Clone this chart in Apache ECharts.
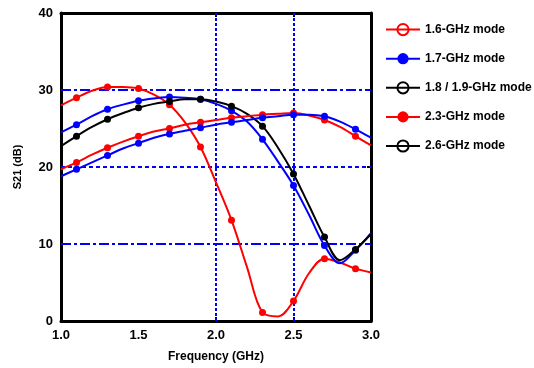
<!DOCTYPE html>
<html>
<head>
<meta charset="utf-8">
<script src="https://cdn.jsdelivr.net/npm/echarts@6/dist/echarts.min.js"></script>
<style>html,body{margin:0;padding:0;background:#fff;}#c{width:534px;height:368px;}</style>
</head>
<body>
<div id="c"></div>
<script>
const freq = [1.0,1.1,1.2,1.3,1.4,1.5,1.6,1.7,1.8,1.9,2.0,2.1,2.2,2.3,2.4,2.5,2.6,2.7,2.8,2.9,3.0];
const mode16 = [28.0,29.0,29.9,30.4,30.4,30.2,29.4,28.1,25.8,22.6,18.0,13.1,7.0,1.1,0.6,2.6,6.2,8.1,7.6,6.8,6.3];
const mode17 = [24.5,25.5,26.6,27.5,28.1,28.6,28.9,29.1,29.0,28.8,28.2,27.3,25.9,23.6,20.7,17.6,13.8,9.8,7.5,9.2,11.4];
const mode1819 = [22.7,24.0,25.2,26.2,27.0,27.7,28.2,28.5,28.8,28.8,28.5,27.9,26.9,25.3,22.5,19.1,15.0,10.9,7.9,9.3,11.3];
const mode23 = [19.7,20.6,21.6,22.5,23.3,24.0,24.6,25.0,25.5,25.8,26.1,26.4,26.6,26.8,26.9,27.0,26.7,26.1,25.2,24.0,22.8];
const mode26 = [18.8,19.7,20.6,21.5,22.4,23.1,23.8,24.3,24.7,25.1,25.5,25.8,26.1,26.4,26.6,26.8,26.8,26.6,25.9,24.9,23.8];
const seriesNames = ['1.6-GHz mode','1.7-GHz mode','1.8 / 1.9-GHz mode','2.3-GHz mode','2.6-GHz mode'];
const xTicks = [1.0,1.5,2.0,2.5,3.0];
const yTicks = [0,10,20,30,40];
const gridXDotted = [2.0,2.5];
const gridYDashDot = [10,30];
const gridYDashed = [20];

const RED='#ff0000', BLUE='#0000ff', BLACK='#000000';
const FONT='Liberation Sans';

function build(vals){
  return freq.map((f,i)=>({value:[f,vals[i]], symbol: (i%2===1)?'circle':'none'}));
}
function mk(name, vals, color){
  return {
    name, type:'line', data: build(vals), smooth:0.35, symbol:'circle', symbolSize:7,
    showAllSymbol:true, z:3,
    itemStyle:{color}, lineStyle:{color, width:2}
  };
}
const series = [
  mk(seriesNames[0], mode16, RED),
  mk(seriesNames[1], mode17, BLUE),
  mk(seriesNames[2], mode1819, BLACK),
  mk(seriesNames[3], mode23, RED),
  mk(seriesNames[4], mode26, BLUE)
];
const mlData = [];
gridXDotted.forEach(v=>mlData.push({xAxis:v, lineStyle:{type:[3,2]}}));
gridYDashDot.forEach(v=>mlData.push({yAxis:v, lineStyle:{type:[10,3,3,3]}}));
gridYDashed.forEach(v=>mlData.push({yAxis:v, lineStyle:{type:[4,3]}}));
series[0].markLine = {silent:true, symbol:'none', z:1, label:{show:false},
  lineStyle:{color:BLUE, width:2}, data: mlData};

const openIcon = c => ({color:'rgba(0,0,0,0)', borderColor:c, borderWidth:2});
const legendData = [
  {name:seriesNames[0], itemStyle:openIcon(RED)},
  {name:seriesNames[1]},
  {name:seriesNames[2], itemStyle:openIcon(BLACK)},
  {name:seriesNames[3]},
  {name:seriesNames[4], itemStyle:openIcon(BLACK), lineStyle:{color:BLACK}}
];

const axisLine = {show:true, onZero:false, lineStyle:{color:'#000', width:3}};
const tickStyle = {show:true, inside:true, length:4, lineStyle:{color:'#000', width:2}};
const labelStyle = {color:'#000', fontFamily:FONT, fontWeight:'bold', fontSize:13};

const chart = echarts.init(document.getElementById('c'), null, {renderer:'canvas'});
chart.setOption({
  animation:false,
  backgroundColor:'#fff',
  grid:{left:61, right:163, top:13, bottom:45},
  legend:{
    orient:'vertical', left:380, top:18, itemGap:16.5, itemWidth:34, itemHeight:14,
    textStyle:{color:'#000', fontFamily:FONT, fontWeight:'bold', fontSize:12},
    data: legendData
  },
  xAxis:[
    {type:'value', min:1.0, max:3.0, interval:0.5, position:'bottom',
     name:'Frequency (GHz)', nameLocation:'middle', nameGap:30,
     nameTextStyle:{color:'#000', fontFamily:FONT, fontWeight:'bold', fontSize:12},
     axisLine, axisTick:{...tickStyle, customValues:gridXDotted},
     axisLabel:{...labelStyle, margin:8, customValues:xTicks, formatter:v=>v.toFixed(1)},
     splitLine:{show:false}},
    {type:'value', min:1.0, max:3.0, interval:0.5, position:'top',
     axisLine, axisTick:{...tickStyle, customValues:gridXDotted},
     axisLabel:{show:false}, splitLine:{show:false}}
  ],
  yAxis:[
    {type:'value', min:0, max:40, interval:10, position:'left',
     name:'S21 (dB)', nameLocation:'middle', nameGap:38,
     nameTextStyle:{color:'#000', fontFamily:FONT, fontWeight:'bold', fontSize:11},
     axisLine, axisTick:{...tickStyle, customValues:[10,20,30]},
     axisLabel:{...labelStyle, margin:8, customValues:yTicks},
     splitLine:{show:false}},
    {type:'value', min:0, max:40, interval:10, position:'right',
     axisLine, axisTick:{...tickStyle, customValues:[10,20,30]},
     axisLabel:{show:false}, splitLine:{show:false}}
  ],
  series
});
</script>
</body>
</html>
